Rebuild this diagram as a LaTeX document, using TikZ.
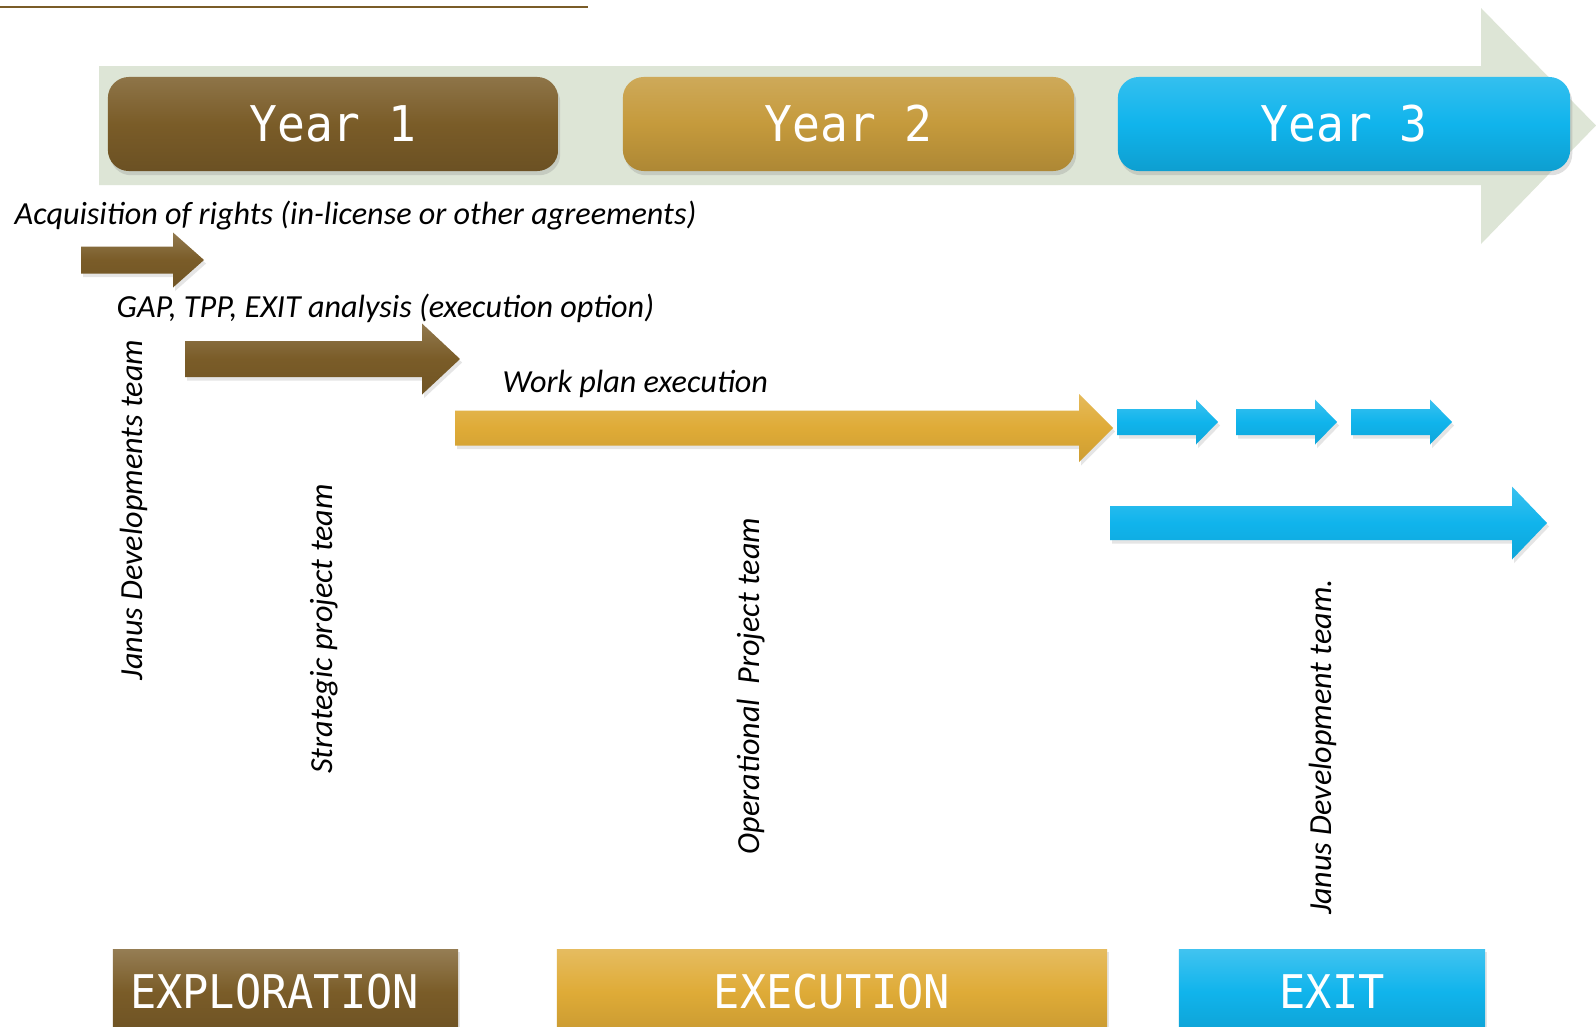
\documentclass[tikz,border=0pt]{standalone}
\usepackage{fontspec}
\setmainfont{Carlito}
\newfontfamily\boxfont[FakeStretch=0.94]{DejaVu Sans Mono}
\usetikzlibrary{shadows}

\definecolor{jbrown}{RGB}{122,92,40}
\definecolor{jgold}{RGB}{197,154,60}
\definecolor{jyellow}{RGB}{223,171,55}
\definecolor{jcyan}{RGB}{16,180,236}
\definecolor{jband}{RGB}{221,229,214}

% colour, shaft start, head base, tip, centre line, half shaft, half head
\newcommand{\blockarrow}[7]{%
  \path[arrowfill=#1] (#2,#5-#6) -- (#3,#5-#6) -- (#3,#5-#7) -- (#4,#5)
    -- (#3,#5+#7) -- (#3,#5+#6) -- (#2,#5+#6) -- cycle;}

\begin{document}
\begin{tikzpicture}[x=0.01cm,y=-0.01cm,
  arrowfill/.style={top color=#1!82!white,bottom color=#1!92!black,middle color=#1,
    drop shadow={shadow xshift=0.6pt,shadow yshift=-1pt,opacity=0.2}},
  year/.style={rounded corners=6pt,minimum height=0.94cm,text=white,
    font=\boxfont\fontsize{14}{14}\selectfont,
    top color=#1!85!white,bottom color=#1!88!black,middle color=#1,
    drop shadow={shadow xshift=0.6pt,shadow yshift=-1.2pt,opacity=0.25}},
  phase/.style={minimum height=0.84cm,text=white,
    font=\boxfont\fontsize{13.2}{14}\selectfont,
    top color=#1!80!white,bottom color=#1!90!black,middle color=#1,
    drop shadow={shadow xshift=0.6pt,shadow yshift=-0.6pt,opacity=0.2}},
  lbl/.style={font=\itshape\fontsize{9.15}{11}\selectfont,inner sep=0pt},
  team/.style={lbl,rotate=90}]
\path[use as bounding box] (0,0) rectangle (1596,1027);
\clip (0,0) rectangle (1596,1027);
\fill[white] (0,0) rectangle (1596,1027);

\draw[jbrown,line width=0.6pt] (0,7) -- (588,7);

\fill[jband] (99,66) -- (1481,66) -- (1481,8) -- (1596,125.5) -- (1481,244)
  -- (1481,185) -- (99,185) -- cycle;

\node[year=jbrown,minimum width=4.5cm] (y1) at (333,124) {Year 1};
\node[year=jgold,minimum width=4.51cm] (y2) at (848.5,124) {Year 2};
\node[year=jcyan,minimum width=4.52cm] (y3) at (1344,124) {Year 3};

\node[lbl,anchor=west] (acq) at (14,216) {Acquisition of rights (in-license or other agreements)};
\node[lbl,anchor=west] (gap) at (116,308) {GAP, TPP, EXIT analysis (execution option)};
\node[lbl,anchor=west] (work) at (502,384) {Work plan execution};

\blockarrow{jbrown}{81}{173}{204}{260}{13.5}{27.5}
\blockarrow{jbrown}{185}{422}{460}{359}{18}{35.5}
\blockarrow{jyellow}{455}{1079}{1113}{428}{17.5}{34}
\foreach \s in {0,119,234}{
  \blockarrow{jcyan}{1117+\s}{1196+\s}{1218+\s}{422}{13}{22.5}
}
\blockarrow{jcyan}{1110}{1512}{1547}{523}{17}{36.5}

\node[team] (jdt) at (134,510) {Janus Developments team};
\node[team] (spt) at (324,629) {Strategic project team};
\node[team] (opt) at (751,686) {Operational\ \ Project team};
\node[team] (jdx) at (1323,747) {Janus Development team.};

\node[phase=jbrown,minimum width=3.45cm] (expl) at (285.5,992) {EXPLORATION\hspace*{0.22cm}};
\node[phase=jyellow,minimum width=5.5cm] (exec) at (832,992) {EXECUTION};
\node[phase=jcyan,minimum width=3.06cm] (exit) at (1332,992) {EXIT};
\end{tikzpicture}
\end{document}
